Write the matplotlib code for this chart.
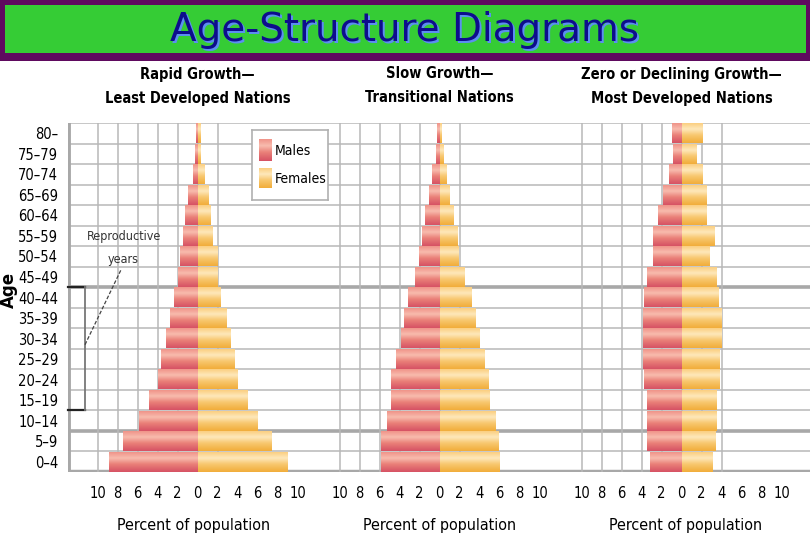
import numpy as np
import matplotlib.pyplot as plt
from matplotlib.colors import LinearSegmentedColormap
from matplotlib.patches import Rectangle

plt.rcParams['font.family'] = ['DejaVu Sans']
plt.rcParams['font.stretch'] = 'condensed'

# age groups, bottom to top
ages = ["0–4", "5–9", "10–14", "15–19", "20–24", "25–29", "30–34", "35–39", "40–44",
        "45–49", "50–54", "55–59", "60–64", "65–69", "70–74", "75–79", "80–"]

# percent of population, bottom (0-4) to top (80+)
rapid_male = [8.85, 7.45, 5.85, 4.85, 4.0, 3.65, 3.15, 2.75, 2.35, 2.0, 1.75, 1.45, 1.25, 1.0, 0.5, 0.3, 0.2]
rapid_female = [9.0, 7.4, 6.0, 4.95, 4.0, 3.65, 3.25, 2.85, 2.25, 2.0, 2.0, 1.5, 1.3, 1.1, 0.65, 0.3, 0.25]
slow_male = [5.85, 5.85, 5.25, 4.85, 4.85, 4.4, 3.9, 3.55, 3.2, 2.45, 2.1, 1.75, 1.45, 1.05, 0.75, 0.4, 0.25]
slow_female = [5.95, 5.9, 5.55, 5.0, 4.9, 4.45, 4.0, 3.6, 3.2, 2.5, 1.9, 1.8, 1.4, 1.0, 0.7, 0.4, 0.2]
zero_male = [3.15, 3.45, 3.45, 3.45, 3.75, 3.85, 3.85, 3.85, 3.75, 3.45, 2.85, 2.85, 2.35, 1.85, 1.25, 0.85, 0.95]
zero_female = [3.1, 3.4, 3.5, 3.5, 3.8, 3.8, 4.0, 4.0, 3.7, 3.5, 2.8, 3.25, 2.5, 2.5, 2.1, 1.5, 2.1]

titles = ["Rapid Growth—\nLeast Developed Nations",
          "Slow Growth—\nTransitional Nations",
          "Zero or Declining Growth—\nMost Developed Nations"]
xticks = [-10, -8, -6, -4, -2, 0, 2, 4, 6, 8, 10]

male_cmap = LinearSegmentedColormap.from_list(
    "m", [(0, "#f09389"), (0.3, "#f8bcae"), (0.6, "#ea8179"), (1, "#d65264")])
female_cmap = LinearSegmentedColormap.from_list(
    "f", [(0, "#fbcf80"), (0.3, "#fee8bb"), (0.6, "#f8c870"), (1, "#f1ad3a")])
grad = np.linspace(0, 1, 64).reshape(-1, 1)

W, H = 810, 540


def px(l, t, r, b):
    return [l / W, 1 - b / H, (r - l) / W, (b - t) / H]


fig = plt.figure(figsize=(8.1, 5.4), dpi=100)

# banner
fig.patches.append(Rectangle((0, 1 - 61 / H), 1, 61 / H, transform=fig.transFigure,
                             facecolor="#5f0a5f", edgecolor="none"))
fig.patches.append(Rectangle((5 / W, 1 - 53 / H), 801 / W, 48 / H, transform=fig.transFigure,
                             facecolor="#35cc35", edgecolor="none"))
fig.text(407 / W, 1 - 32 / H, "Age-Structure Diagrams", fontsize=28, color="#5b8ff0",
         ha="center", va="center", fontstretch="normal")
fig.text(405 / W, 1 - 30 / H, "Age-Structure Diagrams", fontsize=28, color="#0d0d8c",
         ha="center", va="center", fontstretch="normal")

top, bot = 123, 472
n = len(ages)

# background grid
bg = fig.add_axes(px(68, top, 810, bot))
bg.set_xlim(0, 1)
bg.set_ylim(0, n)
for s in bg.spines.values():
    s.set_visible(False)
for y in range(1, n + 1):
    bg.axhline(y, color="#b8b8b8", lw=1.1, zorder=0)
for y in [2, 9]:
    bg.axhline(y, color="#a8a8a8", lw=2.6, zorder=0)
bg.axhline(0, color="#a8a8a8", lw=3.2, zorder=0)
bg.axvline(0, color="#a8a8a8", lw=3.5, zorder=0)
bg.set_xticks([])
bg.set_yticks(np.arange(n) + 0.5)
bg.set_yticklabels(ages, fontsize=10.5)
bg.tick_params(axis="y", length=0, pad=7)
fig.text(9 / W, 1 - 290 / H, "Age", rotation=90, fontweight="bold", fontsize=12,
         ha="center", va="center", fontstretch="normal")

centers = [197.5, 439.5, 681.5]
bounds = [(68, 318.5), (318.5, 560.5), (560.5, 810)]
males = [rapid_male, slow_male, zero_male]
females = [rapid_female, slow_female, zero_female]
grid_right = [2, 2, 4]

axes = []
for i in range(3):
    l, r = bounds[i]
    c = centers[i]
    ax = fig.add_axes(px(l, top, r, bot))
    ax.patch.set_visible(False)
    for s in ax.spines.values():
        s.set_visible(False)
    for x in range(-10, grid_right[i] + 1, 2):
        ax.axvline(x, color="#b8b8b8", lw=1.1, zorder=0)
    for k in range(n):
        ax.imshow(grad, cmap=male_cmap, aspect="auto", interpolation="bicubic",
                  extent=(-males[i][k], -0.04, k + 0.02, k + 0.98), zorder=2)
        ax.imshow(grad, cmap=female_cmap, aspect="auto", interpolation="bicubic",
                  extent=(0.04, females[i][k], k + 0.02, k + 0.98), zorder=2)
    ax.set_xlim((l - c) / 10, (r - c) / 10)
    ax.set_ylim(0, n)
    ax.set_yticks([])
    ax.set_xticks(xticks)
    ax.set_xticklabels([str(abs(t)) for t in xticks], fontsize=10.5)
    ax.tick_params(axis="x", length=0, pad=10)
    ax.set_xlabel("Percent of population", fontsize=11.5, labelpad=12)
    fig.text(c / W, 1 - 86 / H, titles[i], ha="center", va="center", fontsize=10.5,
             fontweight="bold", linespacing=1.75)
    axes.append(ax)

# reproductive years bracket on first panel
ax = axes[0]
ax.plot([-12.95, -11.25], [9, 9], color="#222222", lw=1.6, clip_on=False, zorder=3)
ax.plot([-12.95, -11.25], [3, 3], color="#222222", lw=1.6, clip_on=False, zorder=3)
ax.plot([-11.25, -11.25], [3, 9], color="#777777", lw=1.3, zorder=3)
ax.plot([-11.25, -7.6], [6.2, 9.9], color="#444444", lw=0.9, ls=(0, (3, 1.5)), zorder=3)
ax.text(-7.3, 11.45, "Reproductive", ha="center", va="center", fontsize=9, color="#333333")
ax.text(-7.45, 10.35, "years", ha="center", va="center", fontsize=9, color="#333333")

# legend
lg = fig.add_axes(px(252, 130, 328, 200))
lg.set_xticks([])
lg.set_yticks([])
for s in lg.spines.values():
    s.set_color("#b0b0b0")
    s.set_linewidth(1.2)
lg.imshow(grad, cmap=male_cmap, aspect="auto", extent=(7, 20, 31, 9))
lg.imshow(grad, cmap=female_cmap, aspect="auto", extent=(7, 20, 58, 38))
lg.set_xlim(0, 76)
lg.set_ylim(70, 0)
lg.text(23, 21, "Males", va="center", fontsize=10)
lg.text(23, 49, "Females", va="center", fontsize=10)

fig.savefig("out.png", dpi=100)
